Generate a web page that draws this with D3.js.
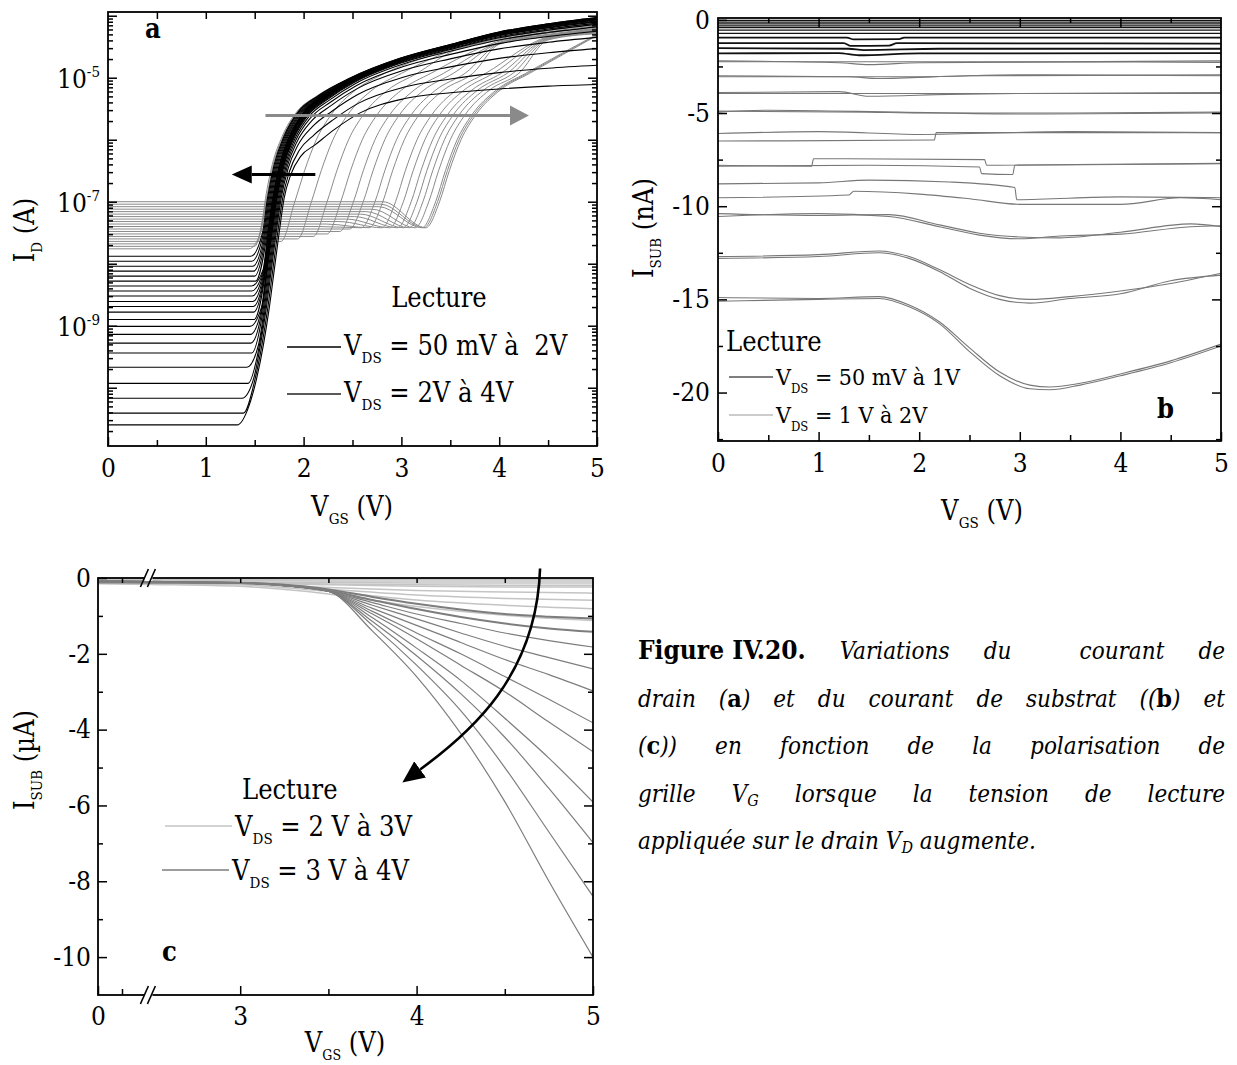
<!DOCTYPE html>
<html>
<head>
<meta charset="utf-8">
<script src="https://cdn.jsdelivr.net/npm/d3@7"></script>
<style>
  body { margin: 0; background: #fff; }
</style>
</head>
<body>
<div id="chart"></div>
<script>
// ---------- panel a : I_D (log10 A) vs V_GS (V) ----------
// black family, V_DS = 50 mV .. 2 V (lowest V_DS first)
var blackOff   = [-10.60,-10.41,-10.17,-9.93,-9.67,-9.44,-9.28,-9.14,-9.01,-8.90,-8.78,-8.69,-8.61,-8.52,-8.44,-8.36,-8.28,-8.20,-8.12,-8.04,-7.96,-7.88];
var blackShift = [0.12,0.105,0.09,0.08,0.07,0.06,0.05,0.045,0.04,0.035,0.03,0.025,0.02,0.015,0.01,0.005,0,-0.01,-0.02,-0.03,-0.04,-0.05];
var blackEnd   = [-5.11,-4.80,-4.53,-4.35,-4.25,-4.18,-4.14,-4.12,-4.10,-4.09,-4.08,-4.07,-4.06,-4.06,-4.05,-4.05,-4.05,-4.04,-4.04,-4.04,-4.03,-4.03];
// on-branch of the black bundle [V_GS, log10 I_D]
var bundleRef  = [[1.22,-10.7],[1.32,-10.3],[1.40,-9.85],[1.47,-9.3],[1.53,-8.7],[1.58,-8.1],[1.63,-7.5],[1.68,-6.95],[1.75,-6.4],[1.85,-5.95],[2.0,-5.55],[2.2,-5.3],[2.5,-5.02],[3.0,-4.7],[3.5,-4.48],[4.0,-4.28],[4.5,-4.15],[5.0,-4.05]];
var bundleSat  = [0,0,0,0,0,0,0,0,0.15,0.3,0.5,0.5,0.52,0.6,0.72,0.85,0.93,1];
var bundleMove = [1,1,1,1,1,1,1,1,1,1,1,1,0.6,0.3,0,0,0,0];
var bundleEnd  = -4.05;

// gray family, V_DS = 2 V .. 4 V (highest V_DS first)
var grayOff   = [-7.00,-7.04,-7.08,-7.12,-7.16,-7.20,-7.24,-7.28,-7.32,-7.36,-7.40,-7.44,-7.48,-7.52,-7.56,-7.60,-7.64];
var grayKnee  = [3.31,3.29,3.27,3.20,3.14,3.08,3.02,2.94,2.86,2.73,2.65,2.53,2.43,2.30,2.16,2.00,1.83];
var grayEnd   = [-4.32,-4.31,-4.30,-4.29,-4.28,-4.27,-4.26,-4.25,-4.24,-4.23,-4.22,-4.21,-4.20,-4.18,-4.16,-4.14,-4.12];
var grayRise  = [[0.08,-7.0],[0.18,-6.5],[0.3,-6.0],[0.45,-5.6],[0.7,-5.2],[1.0,-4.93]];
var grayFloor = -7.42;
// gray curves that still join the bundle
var grayBundleOff   = [-7.68,-7.72,-7.76];
var grayBundleShift = [-0.05,-0.06,-0.07];

var expLabelsA = [-5, -7, -9];

// ---------- panel b : I_SUB (nA) vs V_GS (V) ----------
var bBlack = [
  [[0,-0.03],[5,-0.03]],
  [[0,-0.12],[5,-0.12]],
  [[0,-0.22],[5,-0.22]],
  [[0,-0.32],[5,-0.32]],
  [[0,-0.42],[5,-0.42]],
  [[0,-0.55],[5,-0.55]],
  [[0,-0.72],[5,-0.72]],
  [[0,-0.95],[1.28,-0.95],[1.35,-1.05],[1.8,-1.03],[1.85,-0.95],[5,-0.95]],
  [[0,-1.25],[1.25,-1.25],[1.32,-1.4],[1.7,-1.38],[1.78,-1.25],[5,-1.28]],
  [[0,-1.52],[1.3,-1.55],[1.45,-1.62],[2.2,-1.55],[5,-1.55]],
  [[0,-1.8],[1.2,-1.78],[1.4,-1.9],[2.0,-1.8],[5,-1.78]]
];
var bGray = [
  [[0,-2.2],[1.2,-2.3],[1.5,-2.4],[2.0,-2.3],[5,-2.2]],
  [[0,-2.25],[2.5,-2.25],[5,-2.28]],
  [[0,-3.0],[1.3,-3.05],[1.6,-3.15],[2.5,-3.0],[5,-2.95]],
  [[0,-3.05],[2,-3.05],[3.0,-2.95],[5,-3.0]],
  [[0,-3.9],[1.2,-3.85],[1.5,-4.1],[2.3,-4.0],[3,-3.95],[5,-3.9]],
  [[0,-3.95],[2,-3.95],[5,-3.95]],
  [[0,-4.95],[0.5,-4.85],[1.8,-4.95],[3.0,-5.05],[5,-5.0]],
  [[0,-4.9],[1.5,-4.95],[2.0,-5.0],[3.5,-5.0],[5,-4.95]],
  [[0,-6.5],[2.15,-6.45],[2.17,-6.05],[5,-6.05]],
  [[0,-6.1],[1.0,-6.0],[2.0,-6.15],[3.5,-6.0],[5,-6.05]],
  [[0,-7.8],[0.93,-7.85],[0.95,-7.45],[2.65,-7.5],[2.67,-7.8],[5,-7.7]],
  [[0,-7.85],[1.5,-7.8],[2.6,-7.9],[2.62,-8.25],[2.93,-8.3],[2.95,-7.8],[5,-7.72]],
  [[0,-8.8],[1.0,-8.75],[1.5,-8.6],[2.3,-8.7],[2.95,-9.0],[2.97,-9.65],[4.0,-9.5],[5,-9.55]],
  [[0,-9.55],[1.3,-9.4],[1.35,-9.2],[2.0,-9.35],[2.5,-9.6],[3.0,-9.9],[4.0,-9.9],[4.6,-9.55],[5,-9.65]],
  [[0,-10.4],[1.0,-10.5],[1.7,-10.45],[2.2,-11.0],[2.6,-11.45],[3.0,-11.65],[3.4,-11.7],[4.0,-11.4],[4.7,-10.95],[5,-11.1]],
  [[0,-10.55],[1.0,-10.4],[1.7,-10.55],[2.2,-11.1],[2.6,-11.55],[3.0,-11.75],[3.4,-11.6],[4.0,-11.5],[4.7,-11.1],[5,-11.05]],
  [[0,-12.7],[1.0,-12.6],[1.6,-12.4],[1.9,-12.7],[2.2,-13.4],[2.5,-14.2],[2.8,-14.8],[3.1,-15.0],[3.5,-14.85],[4.0,-14.55],[4.5,-14.15],[5,-13.6]],
  [[0,-12.8],[1.0,-12.7],[1.6,-12.5],[1.9,-12.8],[2.2,-13.5],[2.5,-14.4],[2.8,-15.0],[3.1,-15.2],[3.5,-14.95],[4.0,-14.7],[4.5,-14.0],[5,-13.7]],
  [[0,-14.9],[1.0,-14.95],[1.6,-14.85],[1.9,-15.3],[2.2,-16.2],[2.5,-17.6],[2.8,-18.9],[3.1,-19.6],[3.3,-19.7],[3.6,-19.5],[4.0,-19.0],[4.5,-18.3],[5,-17.4]],
  [[0,-15.1],[1.0,-15.0],[1.6,-14.95],[1.9,-15.4],[2.2,-16.3],[2.5,-17.8],[2.8,-19.1],[3.1,-19.8],[3.3,-19.85],[3.6,-19.6],[4.0,-19.1],[4.5,-18.4],[5,-17.5]]
];

// ---------- panel c : I_SUB (uA) vs V_GS (V) ----------
var cGridLight = [0, 2.5, 3.0, 3.5, 4.0, 4.5, 5.0];
var cLight = [
  [-0.03,-0.03,-0.04,-0.04,-0.03,-0.03,-0.03],
  [-0.06,-0.06,-0.07,-0.08,-0.08,-0.08,-0.08],
  [-0.08,-0.09,-0.10,-0.12,-0.13,-0.13,-0.13],
  [-0.10,-0.11,-0.12,-0.16,-0.18,-0.19,-0.19],
  [-0.11,-0.12,-0.13,-0.18,-0.22,-0.24,-0.24],
  [-0.12,-0.13,-0.14,-0.25,-0.33,-0.37,-0.40],
  [-0.13,-0.14,-0.16,-0.30,-0.45,-0.54,-0.59],
  [-0.14,-0.15,-0.18,-0.35,-0.58,-0.72,-0.81],
  [-0.15,-0.17,-0.22,-0.42,-0.75,-0.98,-1.12]
];
var cGridMed = [0, 2.5, 3.0, 3.3, 3.5, 3.75, 4.0, 4.25, 4.5, 4.75, 5.0];
var cMed = [
  [-0.08,-0.10,-0.13,-0.20,-0.30,-0.50,-0.68,-0.83,-0.95,-1.02,-1.07],
  [-0.08,-0.10,-0.13,-0.21,-0.33,-0.58,-0.82,-1.03,-1.20,-1.33,-1.42],
  [-0.09,-0.10,-0.13,-0.22,-0.35,-0.65,-0.95,-1.20,-1.45,-1.65,-1.82],
  [-0.09,-0.10,-0.13,-0.22,-0.35,-0.72,-1.08,-1.45,-1.80,-2.10,-2.40],
  [-0.10,-0.11,-0.13,-0.22,-0.35,-0.80,-1.25,-1.70,-2.15,-2.55,-2.98],
  [-0.10,-0.11,-0.13,-0.22,-0.35,-0.88,-1.45,-2.00,-2.60,-3.20,-3.82],
  [-0.10,-0.11,-0.13,-0.22,-0.35,-0.95,-1.60,-2.30,-3.00,-3.80,-4.58],
  [-0.11,-0.12,-0.13,-0.22,-0.35,-1.05,-1.85,-2.70,-3.70,-4.75,-5.91],
  [-0.11,-0.12,-0.13,-0.22,-0.35,-1.15,-2.05,-3.05,-4.20,-5.55,-6.98],
  [-0.12,-0.12,-0.13,-0.22,-0.35,-1.25,-2.30,-3.50,-5.00,-6.70,-8.40],
  [-0.12,-0.12,-0.13,-0.22,-0.35,-1.40,-2.60,-4.10,-5.90,-8.00,-10.00]
];
// arrow in panel c : start, two control points, end (V, uA)
var arrowC = [[4.70, 0.25], [4.68, -2.6], [4.30, -4.1], [4.02, -5.05]];

// ---------------------------------------------------------
var FONT = '"DejaVu Serif Condensed", "DejaVu Serif", serif';
var svg = d3.select("#chart").append("svg")
  .attr("width", 1237).attr("height", 1065)
  .style("background", "#fff")
  .attr("font-family", FONT);

var defs = svg.append("defs");
function marker(id, color, len, half) {
  defs.append("marker").attr("id", id)
    .attr("markerUnits", "userSpaceOnUse")
    .attr("markerWidth", len + 2).attr("markerHeight", 2 * half + 2)
    .attr("viewBox", [0, -half - 1, len + 2, 2 * half + 2].join(" "))
    .attr("refX", 0).attr("refY", 0).attr("orient", "auto")
    .append("path").attr("d", "M0," + (-half) + "L" + len + ",0L0," + half + "Z").attr("fill", color);
}
marker("headGray", "#8a8a8a", 19, 10);
marker("headBlack", "#000", 20, 9);
marker("headC", "#000", 22, 10);

function clip(id, x0, x1, y0, y1) {
  defs.append("clipPath").attr("id", id).append("rect")
    .attr("x", x0).attr("y", y0).attr("width", x1 - x0).attr("height", y1 - y0);
}

function tickSet(g, axis, scale, values, len, tr, fmt, size, pad) {
  var ax = axis(scale).tickValues(values).tickSizeInner(-len).tickSizeOuter(0)
    .tickPadding(pad || 9).tickFormat(fmt || function () { return ""; });
  var a = g.append("g").attr("transform", tr).call(ax);
  a.select(".domain").remove();
  a.selectAll("line").attr("stroke", "#000").attr("stroke-width", 1.5);
  a.selectAll("text").attr("font-family", FONT).attr("font-size", size || 26).attr("fill", "#000");
  return a;
}

function frame(g, x0, x1, y0, y1) {
  g.append("rect").attr("x", x0).attr("y", y0).attr("width", x1 - x0).attr("height", y1 - y0)
    .attr("fill", "none").attr("stroke", "#000").attr("stroke-width", 1.8);
}

// text with sub / superscripts: parts = [[text, "sub"|"sup"|null], ...]
function rich(t, parts, small) {
  var shift = 0;
  parts.forEach(function (p) {
    var want = p[1] === "sub" ? 8 : p[1] === "sup" ? -11 : 0;
    var s = t.append("tspan").text(p[0]);
    if (want !== shift) { s.attr("dy", want - shift); shift = want; }
    if (p[1]) s.attr("font-size", small);
  });
  return t;
}

function fmtNum(d) { return String(d); }

// ================= panel a =================
var gA = svg.append("g");
var xA = d3.scaleLinear().domain([0, 5]).range([108, 597]);
var yA = d3.scaleLog().domain([Math.pow(10, -10.94), Math.pow(10, -3.94)]).range([446, 12]);
clip("clipA", 108, 597, 12, 446);
var lineA = d3.line().x(function (d) { return xA(d[0]); })
  .y(function (d) { return yA(Math.pow(10, d[1])); }).curve(d3.curveMonotoneX);

function bundleCurve(off, shift, end) {
  var kept = bundleRef.map(function (p, j) {
    return [p[0] + shift * bundleMove[j], p[1] + (end - bundleEnd) * bundleSat[j]];
  }).filter(function (p) { return p[1] > off + 0.25; });
  return [[0, off], [kept[0][0] - 0.12, off]].concat(kept);
}
function grayCurve(off, k, end) {
  var pts = [[0, off]];
  if (off > grayFloor) { pts.push([k - 0.5, off]); pts.push([k - 0.06, grayFloor]); }
  else pts.push([k - 0.06, off]);
  grayRise.forEach(function (p) { pts.push([k + p[0], p[1]]); });
  var lastV = k + grayRise[grayRise.length - 1][0];
  bundleRef.forEach(function (p) { if (p[0] >= lastV + 0.25) pts.push([p[0], p[1] + end - bundleEnd]); });
  return pts;
}

var curvesA = gA.append("g").attr("clip-path", "url(#clipA)").attr("fill", "none");
curvesA.selectAll("path.gk").data(grayOff).enter().append("path")
  .attr("d", function (o, i) { return lineA(grayCurve(o, grayKnee[i], grayEnd[i])); })
  .attr("stroke", "#8a8a8a").attr("stroke-width", 1);
curvesA.selectAll("path.gb").data(grayBundleOff).enter().append("path")
  .attr("d", function (o, i) { return lineA(bundleCurve(o, grayBundleShift[i], -4.05)); })
  .attr("stroke", "#8a8a8a").attr("stroke-width", 1);
curvesA.selectAll("path.bk").data(blackOff).enter().append("path")
  .attr("d", function (o, i) { return lineA(bundleCurve(o, blackShift[i], blackEnd[i])); })
  .attr("stroke", "#000").attr("stroke-width", 1.1);

// arrows
var arrowsA = [
  { from: 1.61, to: 4.11, logI: -5.61, color: "#8a8a8a", head: "headGray" },
  { from: 2.12, to: 1.47, logI: -6.56, color: "#000", head: "headBlack" }
];
gA.selectAll("line.arr").data(arrowsA).enter().append("line")
  .attr("x1", function (d) { return xA(d.from); }).attr("x2", function (d) { return xA(d.to); })
  .attr("y1", function (d) { return yA(Math.pow(10, d.logI)); }).attr("y2", function (d) { return yA(Math.pow(10, d.logI)); })
  .attr("stroke", function (d) { return d.color; }).attr("stroke-width", 3)
  .attr("marker-end", function (d) { return "url(#" + d.head + ")"; });

// ticks
var decA = d3.range(-11, -3);
var inA = function (v) { return v >= yA.domain()[0] && v <= yA.domain()[1]; };
var majA = decA.map(function (e) { return Math.pow(10, e); }).filter(inA);
var minA = [];
decA.forEach(function (e) { d3.range(2, 10).forEach(function (m) { minA.push(m * Math.pow(10, e)); }); });
minA = minA.filter(inA);
tickSet(gA, d3.axisBottom, xA, [0, 1, 2, 3, 4, 5], 9, "translate(0,446)", fmtNum, 26, 13);
tickSet(gA, d3.axisBottom, xA, [0.5, 1.5, 2.5, 3.5, 4.5], 6, "translate(0,446)");
tickSet(gA, d3.axisTop, xA, d3.range(0.5, 5, 0.5), 7, "translate(0,12)");
tickSet(gA, d3.axisLeft, yA, majA, 9, "translate(108,0)");
tickSet(gA, d3.axisLeft, yA, minA, 5, "translate(108,0)");
tickSet(gA, d3.axisRight, yA, majA, 9, "translate(597,0)");
tickSet(gA, d3.axisRight, yA, minA, 5, "translate(597,0)");
frame(gA, 108, 597, 12, 446);
expLabelsA.forEach(function (e) {
  rich(gA.append("text").attr("x", 100).attr("y", yA(Math.pow(10, e)) + 10)
    .attr("text-anchor", "end").attr("font-size", 26), [["10", null], ["-" + (-e), "sup"]], 15);
});
gA.append("text").attr("x", 145).attr("y", 38).attr("font-size", 27).attr("font-weight", "bold").text("a");
rich(gA.append("text").attr("x", 352).attr("y", 516).attr("text-anchor", "middle").attr("font-size", 27),
  [["V", null], ["GS", "sub"], [" (V)", null]], 15);
rich(gA.append("text").attr("transform", "translate(34,230) rotate(-90)").attr("text-anchor", "middle").attr("font-size", 27),
  [["I", null], ["D", "sub"], [" (A)", null]], 15);
// legend a
gA.append("text").attr("x", 439).attr("y", 307).attr("text-anchor", "middle").attr("font-size", 27).text("Lecture");
var legA = [
  { y: 347, color: "#000", txt: " = 50 mV à  2V" },
  { y: 394, color: "#222", txt: " = 2V à 4V" }
];
legA.forEach(function (r) {
  gA.append("line").attr("x1", 287).attr("x2", 341).attr("y1", r.y).attr("y2", r.y)
    .attr("stroke", r.color).attr("stroke-width", 1.3);
  rich(gA.append("text").attr("x", 344).attr("y", r.y + 8).attr("font-size", 27).style("white-space", "pre"),
    [["V", null], ["DS", "sub"], [r.txt, null]], 15);
});

// ================= panel b =================
var gB = svg.append("g");
var xB = d3.scaleLinear().domain([0, 5]).range([718, 1221]);
var yB = d3.scaleLinear().domain([-22.6, 0.1]).range([441, 18]);
clip("clipB", 718, 1221, 18, 441);
var lineB = d3.line().x(function (d) { return xB(d[0]); }).y(function (d) { return yB(d[1]); })
  .curve(d3.curveMonotoneX);
var curvesB = gB.append("g").attr("clip-path", "url(#clipB)").attr("fill", "none");
curvesB.selectAll("path.g").data(bGray).enter().append("path")
  .attr("d", lineB).attr("stroke", "#777").attr("stroke-width", 1.1);
curvesB.selectAll("path.b").data(bBlack).enter().append("path")
  .attr("d", lineB).attr("stroke", "#111")
  .attr("stroke-width", function (d, i) { return i >= 7 ? 1.8 : 1.2; });
tickSet(gB, d3.axisBottom, xB, [0, 1, 2, 3, 4, 5], 9, "translate(0,441)", fmtNum, 26, 13);
tickSet(gB, d3.axisBottom, xB, [0.5, 1.5, 2.5, 3.5, 4.5], 6, "translate(0,441)");
tickSet(gB, d3.axisTop, xB, [1, 2, 3, 4], 9, "translate(0,18)");
tickSet(gB, d3.axisTop, xB, [0.5, 1.5, 2.5, 3.5, 4.5], 5, "translate(0,18)");
tickSet(gB, d3.axisLeft, yB, [0, -5, -10, -15, -20], 9, "translate(718,0)", fmtNum, 26, 8);
tickSet(gB, d3.axisLeft, yB, [-2.5, -7.5, -12.5, -17.5, -22.5], 5, "translate(718,0)");
tickSet(gB, d3.axisRight, yB, [-5, -10, -15, -20], 9, "translate(1221,0)");
tickSet(gB, d3.axisRight, yB, [-2.5, -7.5, -12.5, -17.5, -22.5], 5, "translate(1221,0)");
frame(gB, 718, 1221, 18, 441);
gB.append("text").attr("x", 1157).attr("y", 418).attr("font-size", 27).attr("font-weight", "bold").text("b");
rich(gB.append("text").attr("x", 982).attr("y", 520).attr("text-anchor", "middle").attr("font-size", 27),
  [["V", null], ["GS", "sub"], [" (V)", null]], 15);
rich(gB.append("text").attr("transform", "translate(653,228) rotate(-90)").attr("text-anchor", "middle").attr("font-size", 27),
  [["I", null], ["SUB", "sub"], [" (nA)", null]], 15);
gB.append("text").attr("x", 726).attr("y", 351).attr("font-size", 27).text("Lecture");
var legB = [
  { y: 377, color: "#000", txt: " = 50 mV à 1V" },
  { y: 415, color: "#9a9a9a", txt: " = 1 V à 2V" }
];
legB.forEach(function (r) {
  gB.append("line").attr("x1", 729).attr("x2", 773).attr("y1", r.y).attr("y2", r.y)
    .attr("stroke", r.color).attr("stroke-width", 1.2);
  rich(gB.append("text").attr("x", 776).attr("y", r.y + 8).attr("font-size", 23),
    [["V", null], ["DS", "sub"], [r.txt, null]], 13);
});

// ================= panel c =================
var gC = svg.append("g");
var xC = d3.scaleLinear().domain([0, 2, 2.5, 5]).range([98, 146, 152, 593]);
var yC = d3.scaleLinear().domain([-11, 0]).range([995, 578]);
clip("clipC", 98, 593, 578, 995);
var lineC = d3.line().x(function (d) { return xC(d[0]); }).y(function (d) { return yC(d[1]); })
  .curve(d3.curveMonotoneX);
var curvesC = gC.append("g").attr("clip-path", "url(#clipC)").attr("fill", "none");
curvesC.selectAll("path.l").data(cLight).enter().append("path")
  .attr("d", function (row) { return lineC(row.map(function (v, j) { return [cGridLight[j], v]; })); })
  .attr("stroke", "#c4c4c4").attr("stroke-width", 1.5);
curvesC.selectAll("path.m").data(cMed).enter().append("path")
  .attr("d", function (row) { return lineC(row.map(function (v, j) { return [cGridMed[j], v]; })); })
  .attr("stroke", "#7d7d7d").attr("stroke-width", function (d, i) { return i < 2 ? 2 : 1.2; });
tickSet(gC, d3.axisBottom, xC, [0, 3, 4, 5], 9, "translate(0,995)", fmtNum, 26, 12);
tickSet(gC, d3.axisBottom, xC, [1, 3.5, 4.5], 6, "translate(0,995)");
tickSet(gC, d3.axisTop, xC, [1, 3, 3.5, 4, 4.5], 5, "translate(0,578)");
tickSet(gC, d3.axisLeft, yC, [0, -2, -4, -6, -8, -10], 9, "translate(98,0)", fmtNum, 26, 7);
tickSet(gC, d3.axisLeft, yC, [-1, -3, -5, -7, -9], 5, "translate(98,0)");
tickSet(gC, d3.axisRight, yC, [-2, -4, -6, -8, -10], 9, "translate(593,0)");
tickSet(gC, d3.axisRight, yC, [-1, -3, -5, -7, -9], 5, "translate(593,0)");
frame(gC, 98, 593, 578, 995);
// axis break marks
[578, 995].forEach(function (y) {
  var xb = xC(2.2);
  gC.append("rect").attr("x", xb - 4).attr("y", y - 3).attr("width", 8).attr("height", 6).attr("fill", "#fff");
  [-4, 3].forEach(function (dx) {
    gC.append("line").attr("x1", xb + dx - 4).attr("y1", y + 9).attr("x2", xb + dx + 4).attr("y2", y - 9)
      .attr("stroke", "#000").attr("stroke-width", 1.6);
  });
});
// curved arrow
var pc = arrowC.map(function (p) { return [xC(p[0]), yC(p[1])]; });
gC.append("path")
  .attr("d", "M" + pc[0] + "C" + pc[1] + " " + pc[2] + " " + pc[3])
  .attr("fill", "none").attr("stroke", "#000").attr("stroke-width", 2.6)
  .attr("marker-end", "url(#headC)");
gC.append("text").attr("x", 162).attr("y", 961).attr("font-size", 27).attr("font-weight", "bold").text("c");
rich(gC.append("text").attr("x", 345).attr("y", 1052).attr("text-anchor", "middle").attr("font-size", 27),
  [["V", null], ["GS", "sub"], [" (V)", null]], 14);
rich(gC.append("text").attr("transform", "translate(34,760) rotate(-90)").attr("text-anchor", "middle").attr("font-size", 27),
  [["I", null], ["SUB", "sub"], [" (\u00b5A)", null]], 15);
gC.append("text").attr("x", 242).attr("y", 799).attr("font-size", 27).text("Lecture");
var legC = [
  { y: 826, x1: 165, x2: 232, color: "#c4c4c4", txt: " = 2 V à 3V" },
  { y: 870, x1: 162, x2: 229, color: "#7d7d7d", txt: " = 3 V à 4V" }
];
legC.forEach(function (r) {
  gC.append("line").attr("x1", r.x1).attr("x2", r.x2).attr("y1", r.y).attr("y2", r.y)
    .attr("stroke", r.color).attr("stroke-width", 1.5);
  rich(gC.append("text").attr("x", r.x2 + 3).attr("y", r.y + 10).attr("font-size", 27),
    [["V", null], ["DS", "sub"], [r.txt, null]], 15);
});

// ================= caption =================
var captionLines = [
  [["Figure IV.20.", "b"], [" Variations du  courant de", "i"]],
  [["drain (", "i"], ["a", "b"], [") et du courant de substrat ((", "i"], ["b", "b"], [") et", "i"]],
  [["(", "i"], ["c", "b"], [")) en fonction de la polarisation de", "i"]],
  [["grille V", "i"], ["G", "s"], [" lorsque la tension de lecture", "i"]],
  [["appliquée sur le drain V", "i"], ["D", "s"], [" augmente.", "i"]]
];
var capX = 638, capW = 587, capY0 = 659, capDY = 47.5;
captionLines.forEach(function (parts, li) {
  var t = svg.append("text").attr("x", capX).attr("y", capY0 + li * capDY)
    .attr("font-size", 24).style("white-space", "pre");
  var low = false, spans = [];
  parts.forEach(function (p) {
    var s = t.append("tspan").text(p[0]);
    if (p[1] === "b") s.attr("font-weight", "bold").attr("font-size", li === 0 ? 26 : 25);
    else s.attr("font-style", "italic");
    if (p[1] === "s") { s.attr("font-size", 16).attr("dy", 4); low = true; }
    else if (low) { s.attr("dy", -4); low = false; }
    spans.push({ sel: s, txt: p[0], bold: p[1] === "b" });
  });
  if (li < captionLines.length - 1) {
    // justify: the extra room goes to the spaces of the italic runs
    var len = t.node().getComputedTextLength();
    var spaces = spans.filter(function (s) { return !s.bold; })
      .map(function (s) { return s.txt; }).join("").split(" ").length - 1;
    var ws = (capW - len) / spaces;
    spans.forEach(function (s) { if (!s.bold) s.sel.attr("word-spacing", ws); });
  }
});
</script>
</body>
</html>
